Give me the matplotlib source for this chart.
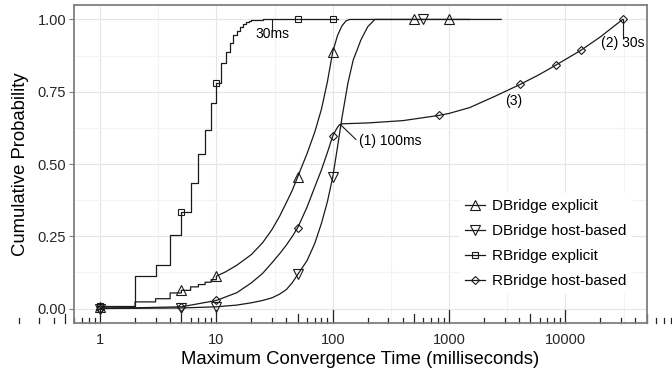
import numpy as np
import matplotlib
matplotlib.use('Agg')
import matplotlib.pyplot as plt
from matplotlib.lines import Line2D

plt.rcParams['font.family'] = ['Liberation Sans', 'DejaVu Sans']

# RBridge explicit (step ECDF), ms -> probability
rb_exp_x = [1, 2, 3, 4, 5, 6, 7, 8, 9, 10, 11, 12, 13, 14, 15, 16, 17, 18, 19, 20, 22, 25, 110]
rb_exp_y = [0.01, 0.112, 0.152, 0.256, 0.335, 0.435, 0.533, 0.617, 0.712, 0.781, 0.848, 0.888,
            0.919, 0.946, 0.960, 0.975, 0.984, 0.990, 0.994, 0.997, 0.999, 1.0, 1.0]
rb_exp_mx = [1, 5, 10, 50, 100]
rb_exp_my = [0.01, 0.335, 0.781, 1.0, 1.0]

# DBridge explicit (stairs at the low end, then smooth)
db_exp_x = [1, 2, 2, 3, 3, 4, 4, 5, 5, 6, 6, 7, 7, 8, 8, 9, 9, 10, 10, 12, 15, 20, 25, 30, 35,
            40, 45, 50, 60, 70, 80, 90, 100, 110, 120, 130, 140, 2800]
db_exp_y = [0.005, 0.005, 0.023, 0.023, 0.034, 0.034, 0.054, 0.054, 0.063, 0.063, 0.075, 0.075,
            0.083, 0.083, 0.091, 0.091, 0.100, 0.100, 0.112, 0.127, 0.150, 0.187, 0.228, 0.273,
            0.32, 0.367, 0.41, 0.456, 0.535, 0.61, 0.69, 0.785, 0.888, 0.945, 0.978, 0.995,
            1.0, 1.0]
db_exp_mx = [1, 5, 10, 50, 100, 500, 1000]
db_exp_my = [0.005, 0.063, 0.112, 0.456, 0.888, 1.0, 1.0]

# DBridge host-based
db_host_x = [1, 5, 10, 15, 20, 25, 30, 35, 40, 45, 50, 60, 70, 80, 90, 100, 110, 120, 135,
             150, 175, 200, 230, 1500]
db_host_y = [0.0, 0.002, 0.006, 0.012, 0.02, 0.028, 0.037, 0.05, 0.066, 0.09, 0.118, 0.165,
             0.225, 0.295, 0.37, 0.455, 0.56, 0.66, 0.78, 0.86, 0.93, 0.975, 1.0, 1.0]
db_host_mx = [1, 5, 10, 50, 100, 600]
db_host_my = [0.0, 0.002, 0.006, 0.118, 0.455, 1.0]

# RBridge host-based
rb_host_x = [1, 5, 10, 15, 20, 25, 30, 35, 40, 45, 50, 60, 70, 80, 90, 100, 108, 113, 120, 140,
             200, 400, 815, 1000, 1500, 2500, 4067, 6000, 8260, 13550, 20000, 31000]
rb_host_y = [0.0, 0.006, 0.028, 0.055, 0.089, 0.122, 0.158, 0.19, 0.22, 0.25, 0.28, 0.35,
             0.42, 0.48, 0.54, 0.597, 0.622, 0.634, 0.639, 0.640, 0.642, 0.650, 0.668, 0.675,
             0.695, 0.735, 0.775, 0.81, 0.842, 0.893, 0.94, 1.0]
rb_host_mx = [1, 5, 10, 50, 100, 815, 4067, 8260, 13550, 31000]
rb_host_my = [0.0, 0.006, 0.028, 0.28, 0.597, 0.668, 0.775, 0.842, 0.893, 1.0]

labels = ['DBridge explicit', 'DBridge host-based', 'RBridge explicit', 'RBridge host-based']

W, H = 672, 371
fig = plt.figure(figsize=(W / 100, H / 100), dpi=100)
ax = fig.add_axes([74 / W, 1 - 323 / H, (647 - 74) / W, (323 - 5) / H])

lc = '#1a1a1a'
lw = 0.9
ax.plot(db_exp_x, db_exp_y, color=lc, lw=lw)
ax.plot(db_host_x, db_host_y, color=lc, lw=lw)
ax.plot(rb_exp_x, rb_exp_y, color=lc, lw=lw, drawstyle='steps-post')
ax.plot(rb_host_x, rb_host_y, color=lc, lw=lw)

mk = dict(linestyle='none', mfc='none', mec=lc, mew=0.8)
ax.plot(db_exp_mx, db_exp_my, marker='^', ms=6.5, **mk)
ax.plot(db_host_mx, db_host_my, marker='v', ms=6.5, **mk)
ax.plot(rb_exp_mx, rb_exp_my, marker='s', ms=4.5, **mk)
ax.plot(rb_host_mx, rb_host_my, marker='D', ms=4.3, **mk)

ax.set_xscale('log')
ax.set_xlim(10 ** -0.224, 10 ** 4.701)
ax.set_ylim(-0.05, 1.05)

# grid
for d in range(0, 5):
    ax.axvline(10 ** d, color='#e6e6e6', lw=0.8, zorder=0)
for d in range(0, 5):
    ax.axvline(10 ** (d + 0.5), color='#f3f3f3', lw=0.8, zorder=0)
for v in [0, 0.25, 0.5, 0.75, 1.0]:
    ax.axhline(v, color='#e6e6e6', lw=0.8, zorder=0)
for v in [0.125, 0.375, 0.625, 0.875]:
    ax.axhline(v, color='#f3f3f3', lw=0.8, zorder=0)

ax.set_xticks([1, 10, 100, 1000, 10000])
ax.set_xticklabels(['1', '10', '100', '1000', '10000'])
ax.xaxis.set_minor_locator(matplotlib.ticker.NullLocator())
ax.set_yticks([0, 0.25, 0.5, 0.75, 1.0])
ax.set_yticklabels(['0.00', '0.25', '0.50', '0.75', '1.00'])
ax.tick_params(axis='x', length=0, pad=7, labelsize=10.5, labelcolor='#262626')
ax.tick_params(axis='y', length=3.5, width=0.8, color='#7f7f7f', pad=2,
               labelsize=10.5, labelcolor='#262626')
for s in ax.spines.values():
    s.set_color('#7f7f7f')
    s.set_linewidth(1.3)
    s.set_zorder(4)

ax.set_xlabel('Maximum Convergence Time (milliseconds)', fontsize=13.3, labelpad=3)
ax.set_ylabel('Cumulative Probability', fontsize=13.3, labelpad=6)

# log ticks along the bottom, drawn past the panel edges
ph = 318.0
trans = ax.get_xaxis_transform()
for d in range(-1, 5):
    for m in range(1, 10):
        ln = 13.5 if m == 1 else (9.5 if m == 5 else 4.8)
        ax.plot([m * 10 ** d] * 2, [0, ln / ph], transform=trans, color='#222222',
                lw=0.9, clip_on=False, zorder=3)

# annotations
ax.plot([30, 30], [1.0, 0.962], color=lc, lw=0.8)
ax.text(30, 0.950, '30ms', ha='center', va='center', fontsize=10)
ax.plot([31000, 31000], [1.0, 0.937], color=lc, lw=0.8)
ax.text(31000, 0.918, '(2) 30s', ha='center', va='center', fontsize=10)
ax.text(3610, 0.717, '(3)', ha='center', va='center', fontsize=10)
ax.plot([116, 158], [0.637, 0.585], color=lc, lw=0.8)
ax.text(167, 0.581, '(1) 100ms', ha='left', va='center', fontsize=10)

handles = [
    Line2D([], [], color=lc, lw=lw, marker='^', ms=6.5, mfc='none', mec=lc, mew=0.8),
    Line2D([], [], color=lc, lw=lw, marker='v', ms=6.5, mfc='none', mec=lc, mew=0.8),
    Line2D([], [], color=lc, lw=lw, marker='s', ms=4.5, mfc='none', mec=lc, mew=0.8),
    Line2D([], [], color=lc, lw=lw, marker='D', ms=4.3, mfc='none', mec=lc, mew=0.8),
]
leg = ax.legend(handles, labels, loc='upper left', bbox_to_anchor=(459 / W, 1 - 193 / H),
                bbox_transform=fig.transFigure, frameon=True, fontsize=11,
                handlelength=1.3, handletextpad=0.45, labelspacing=0.72,
                borderpad=0.4, borderaxespad=0, fancybox=False)
leg.get_frame().set_facecolor('white')
leg.get_frame().set_edgecolor('none')
leg.get_frame().set_alpha(1)

fig.savefig('out.png', dpi=100)
